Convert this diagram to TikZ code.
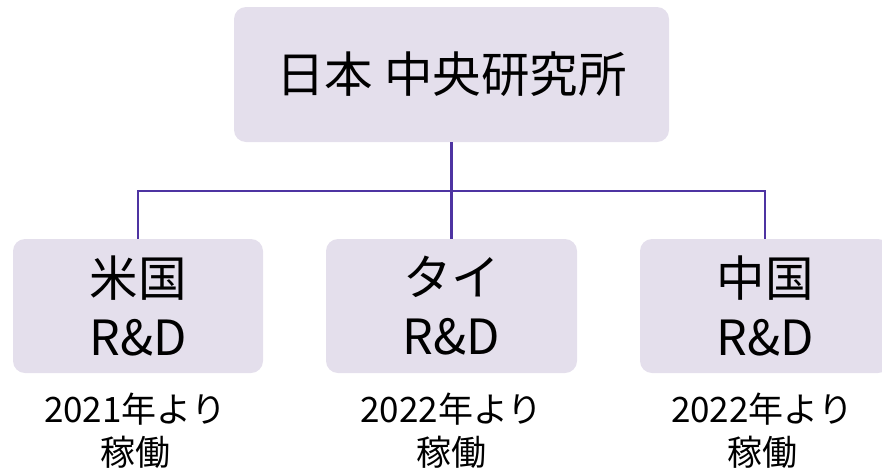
\documentclass[tikz,border=0pt]{standalone}
\usepackage{fontspec}
\setmainfont{Noto Sans CJK JP}
\definecolor{boxfill}{RGB}{228,223,236}
\definecolor{linkc}{RGB}{78,52,162}
\begin{document}
\begin{tikzpicture}[x=1pt,y=-1pt,
  orgbox/.style={fill=boxfill,rounded corners=12pt,inner sep=0pt,align=center,font=\fontsize{48.5}{59}\selectfont},
  note/.style={align=center,inner sep=0pt,font=\fontsize{35}{43}\selectfont},
  link/.style={draw=linkc,line width=1.5pt},
  trunk/.style={draw=linkc,line width=2.6pt}]
\useasboundingbox (0,0) rectangle (882,474);
\node[orgbox,minimum width=435pt,minimum height=135pt] (top) at (451.5,74.5) {日本 中央研究所};
\node[orgbox,minimum width=250pt,minimum height=134pt] (us) at (138,306) {米国\\R\&D};
\node[orgbox,minimum width=251pt,minimum height=134pt] (th) at (451.5,306) {タイ\\R\&D};
\node[orgbox,minimum width=250pt,minimum height=134pt] (cn) at (765,306) {中国\\R\&D};
\node[note] (usn) at (135,431) {2021年より\\稼働};
\node[note] (thn) at (451.5,431) {2022年より\\稼働};
\node[note] (cnn) at (762,431) {2022年より\\稼働};
\coordinate (bus) at (451.5,191);
\draw[link] (us.north) |- (bus) -| (cn.north);
\draw[trunk] (top.south) -- (th.north);
\end{tikzpicture}
\end{document}
